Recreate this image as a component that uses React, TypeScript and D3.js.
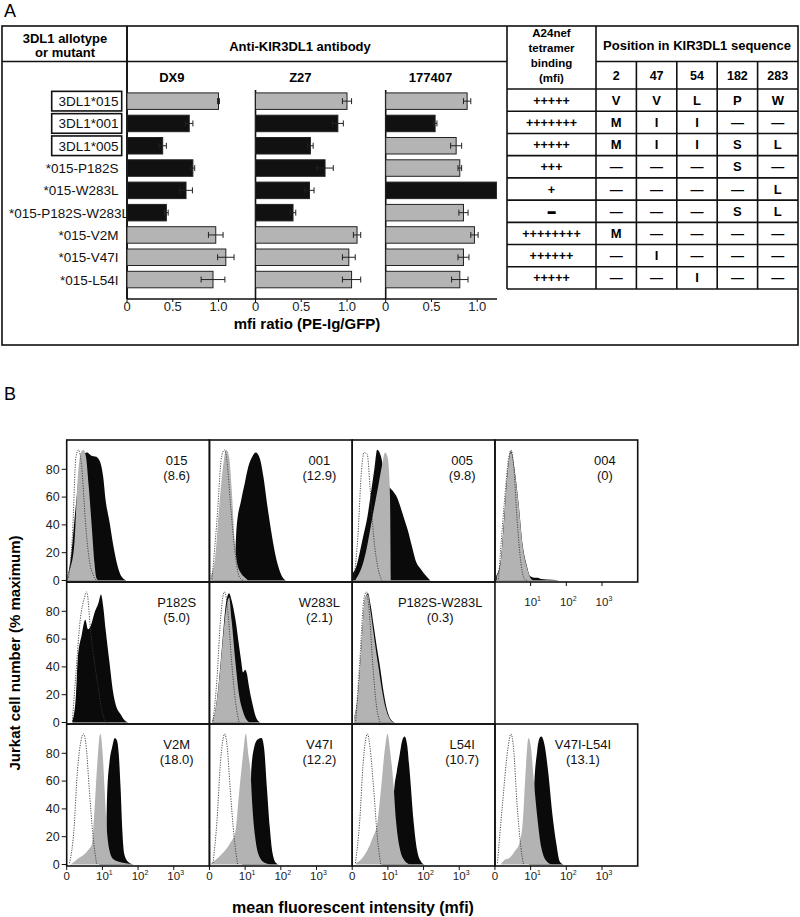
import React from "react";
import * as d3 from "d3";

const FONT = "'Liberation Sans', Arial, Helvetica, sans-serif";

// ---------- panel A data ----------
const alleles = [
  "3DL1*015",
  "3DL1*001",
  "3DL1*005",
  "*015-P182S",
  "*015-W283L",
  "*015-P182S-W283L",
  "*015-V2M",
  "*015-V47I",
  "*015-L54I",
];
const boxedAlleles = ["3DL1*015", "3DL1*001", "3DL1*005"];
const antibodies = ["DX9", "Z27", "177407"];

const dx9Ratio = [1.0, 0.68, 0.39, 0.72, 0.645, 0.43, 0.97, 1.08, 0.94];
const dx9Err = [0.01, 0.04, 0.04, 0.02, 0.07, 0.02, 0.08, 0.09, 0.13];
const dx9Low = [false, true, true, true, true, true, false, false, false];

const z27Ratio = [1.0, 0.9, 0.6, 0.76, 0.59, 0.41, 1.11, 1.02, 1.05];
const z27Err = [0.05, 0.06, 0.03, 0.09, 0.05, 0.03, 0.04, 0.07, 0.1];
const z27Low = [false, true, true, true, true, true, false, false, false];

const r177Ratio = [0.89, 0.54, 0.77, 0.81, 1.21, 0.85, 0.97, 0.85, 0.81];
const r177Err = [0.04, 0.02, 0.06, 0.02, 0, 0.05, 0.04, 0.06, 0.09];
const r177Low = [false, true, false, false, true, false, false, false, false];

const ratioTicks = [0, 0.5, 1.0];

const tetramerBinding = [
  "+++++",
  "+++++++",
  "+++++",
  "+++",
  "+",
  "\u2013",
  "++++++++",
  "++++++",
  "+++++",
];
const positions = ["2", "47", "54", "182", "283"];
const D = "\u2014";
const residues = [
  ["V", "V", "L", "P", "W"],
  ["M", "I", "I", D, D],
  ["M", "I", "I", "S", "L"],
  [D, D, D, "S", D],
  [D, D, D, D, "L"],
  [D, D, D, "S", "L"],
  ["M", D, D, D, D],
  [D, "I", D, D, D],
  [D, D, "I", D, D],
];

// ---------- panel B data: [log10 mfi, % maximum] ----------
type Pt = [number, number];
const h015Dot: Pt[] = [[0.05, 2], [0.16, 32], [0.26, 89], [0.33, 94], [0.42, 82], [0.52, 44], [0.62, 17], [0.78, 2], [0.83, 0]];
const h015Gray: Pt[] = [[0.02, 4], [0.1, 9], [0.21, 25], [0.31, 74], [0.4, 92], [0.47, 94], [0.54, 89], [0.62, 67], [0.71, 36], [0.78, 12], [0.83, 2], [0.89, 0]];
const h015Black: Pt[] = [[0.02, 3], [0.1, 13], [0.26, 55], [0.42, 89], [0.57, 92], [0.68, 90], [0.83, 89], [0.94, 85], [1.02, 75], [1.09, 58], [1.2, 42], [1.3, 26], [1.41, 12], [1.51, 4], [1.67, 0]];

const h001Dot: Pt[] = [[0.07, 1], [0.21, 43], [0.34, 89], [0.42, 94], [0.49, 86], [0.59, 55], [0.7, 24], [0.83, 3], [0.94, 0]];
const h001Gray: Pt[] = [[0.03, 3], [0.16, 17], [0.28, 55], [0.39, 84], [0.47, 94], [0.55, 89], [0.62, 67], [0.7, 31], [0.78, 12], [0.89, 5], [1.0, 2], [1.09, 0]];
const h001Black: Pt[] = [[0.05, 1], [0.3, 5], [0.52, 8], [0.7, 11], [0.76, 38], [0.89, 58], [0.99, 70], [1.09, 82], [1.2, 89], [1.3, 92], [1.41, 88], [1.51, 75], [1.61, 56], [1.72, 37], [1.82, 22], [1.93, 10], [2.03, 3], [2.14, 0]];

const h005Dot: Pt[] = [[0.05, 1], [0.16, 32], [0.26, 79], [0.33, 92], [0.42, 91], [0.5, 67], [0.6, 32], [0.73, 8], [0.83, 0]];
const h005Gray: Pt[] = [[0.1, 1], [0.21, 6], [0.31, 13], [0.42, 25], [0.52, 39], [0.62, 53], [0.73, 68], [0.83, 82], [0.92, 92], [0.99, 89], [1.04, 75], [1.06, 60], [1.08, 0]];
const h005Black: Pt[] = [[0.0, 5], [0.1, 9], [0.21, 20], [0.31, 32], [0.42, 45], [0.52, 62], [0.62, 80], [0.7, 94], [0.81, 89], [0.94, 70], [1.04, 67], [1.15, 64], [1.25, 60], [1.35, 53], [1.46, 44], [1.56, 36], [1.67, 25], [1.77, 15], [1.93, 8], [2.08, 3], [2.19, 0]];

const h004Dot: Pt[] = [[0.1, 1], [0.26, 55], [0.39, 89], [0.45, 94], [0.52, 84], [0.62, 44], [0.73, 12], [0.83, 1], [0.9, 0]];
const h004Gray: Pt[] = [[0.05, 3], [0.16, 13], [0.26, 44], [0.36, 79], [0.45, 92], [0.55, 79], [0.66, 55], [0.78, 24], [0.89, 10], [0.99, 2], [1.09, 0]];
const h004Black: Pt[] = [[0.03, 3], [0.16, 14], [0.26, 46], [0.36, 80], [0.45, 93], [0.55, 80], [0.66, 56], [0.78, 25], [0.89, 11], [0.99, 3], [1.1, 2], [1.2, 2], [1.3, 1], [1.6, 0.5], [1.8, 0]];

const hP182SDot: Pt[] = [[0.16, 1], [0.26, 36], [0.38, 74], [0.5, 90], [0.56, 94], [0.68, 63], [0.78, 43], [0.89, 24], [0.99, 8], [1.09, 1], [1.15, 0]];
const hP182SBlack: Pt[] = [[0.16, 1], [0.26, 20], [0.31, 46], [0.42, 63], [0.52, 74], [0.6, 67], [0.68, 70], [0.78, 79], [0.89, 86], [0.96, 92], [1.02, 84], [1.09, 67], [1.2, 43], [1.3, 22], [1.41, 10], [1.51, 6], [1.61, 2], [1.72, 0]];

const hW283LDot: Pt[] = [[0.1, 1], [0.21, 31], [0.31, 74], [0.42, 94], [0.52, 79], [0.62, 44], [0.73, 15], [0.83, 0]];
const hW283LGray: Pt[] = [[0.07, 1], [0.16, 8], [0.26, 27], [0.36, 55], [0.47, 82], [0.55, 90], [0.62, 74], [0.73, 43], [0.83, 20], [0.94, 8], [1.04, 2], [1.15, 0]];
const hW283LBlack: Pt[] = [[0.07, 1], [0.16, 8], [0.26, 28], [0.36, 57], [0.47, 87], [0.55, 93], [0.62, 88], [0.73, 74], [0.83, 55], [0.89, 44], [0.94, 36], [1.0, 38], [1.05, 35], [1.1, 27], [1.2, 14], [1.3, 4], [1.42, 0]];

const hPWDot: Pt[] = [[0.1, 1], [0.21, 43], [0.33, 89], [0.4, 94], [0.47, 82], [0.57, 44], [0.68, 12], [0.78, 0]];
const hPWGray: Pt[] = [[0.05, 3], [0.16, 20], [0.26, 55], [0.36, 89], [0.44, 92], [0.52, 79], [0.62, 60], [0.73, 41], [0.83, 24], [0.94, 10], [1.04, 3], [1.15, 0]];
const hPWBlack: Pt[] = [[0.05, 3], [0.16, 20], [0.26, 55], [0.36, 89], [0.44, 93], [0.52, 84], [0.6, 70], [0.68, 56], [0.78, 40], [0.88, 22], [0.99, 8], [1.09, 2], [1.2, 0]];

const hV2MDot: Pt[] = [[0.08, 1], [0.2, 24], [0.3, 67], [0.4, 89], [0.47, 94], [0.55, 84], [0.63, 55], [0.74, 20], [0.84, 0]];
const hV2MGray: Pt[] = [[0.1, 0], [0.21, 2], [0.36, 5], [0.52, 8], [0.62, 11], [0.71, 15], [0.78, 40], [0.85, 70], [0.94, 94], [1.01, 79], [1.06, 55], [1.12, 27], [1.2, 10], [1.3, 4], [1.46, 2], [1.61, 1], [1.88, 0]];
const hV2MBlack: Pt[] = [[0.9, 0], [1.1, 8], [1.13, 48], [1.2, 74], [1.27, 84], [1.35, 91], [1.41, 89], [1.46, 79], [1.51, 55], [1.56, 24], [1.61, 8], [1.72, 2], [1.88, 0]];

const hV47IDot: Pt[] = [[0.1, 1], [0.21, 31], [0.31, 74], [0.43, 94], [0.5, 84], [0.58, 55], [0.69, 20], [0.79, 0]];
const hV47IGray: Pt[] = [[0.05, 1], [0.16, 3], [0.36, 8], [0.57, 15], [0.73, 24], [0.83, 51], [0.94, 79], [1.02, 94], [1.09, 79], [1.15, 67], [1.2, 43], [1.28, 20], [1.41, 5], [1.56, 1], [1.72, 0]];
const hV47IBlack: Pt[] = [[0.9, 0], [1.15, 10], [1.17, 67], [1.25, 84], [1.35, 90], [1.46, 91], [1.53, 84], [1.61, 55], [1.69, 27], [1.77, 8], [1.87, 1], [1.93, 0]];

const hL54IDot: Pt[] = [[0.09, 1], [0.21, 31], [0.31, 74], [0.43, 94], [0.5, 84], [0.6, 55], [0.7, 21], [0.8, 0]];
const hL54IGray: Pt[] = [[0.1, 1], [0.26, 4], [0.42, 10], [0.57, 19], [0.71, 31], [0.81, 55], [0.92, 84], [0.99, 94], [1.06, 82], [1.15, 60], [1.23, 31], [1.33, 12], [1.46, 3], [1.61, 0]];
const hL54IBlack: Pt[] = [[0.8, 0], [1.15, 6], [1.17, 50], [1.25, 67], [1.33, 79], [1.4, 89], [1.47, 92], [1.54, 86], [1.61, 67], [1.72, 31], [1.82, 10], [1.93, 2], [2.03, 0]];

const hVLDot: Pt[] = [[0.07, 1], [0.21, 43], [0.36, 83], [0.45, 94], [0.52, 84], [0.62, 43], [0.73, 12], [0.8, 0]];
const hVLGray: Pt[] = [[0.16, 0], [0.26, 3], [0.42, 5], [0.57, 10], [0.68, 15], [0.78, 31], [0.86, 67], [0.94, 91], [1.01, 84], [1.09, 60], [1.2, 31], [1.3, 12], [1.46, 2], [1.61, 0]];
const hVLBlack: Pt[] = [[0.95, 3], [1.08, 20], [1.1, 55], [1.18, 81], [1.25, 91], [1.3, 92], [1.39, 86], [1.49, 67], [1.61, 36], [1.72, 15], [1.82, 2], [1.93, 0]];

const histNames = ["015", "001", "005", "004", "P182S", "W283L", "P182S-W283L", "", "V2M", "V47I", "L54I", "V47I-L54I"];
const histMfi = ["8.6", "12.9", "9.8", "0", "5.0", "2.1", "0.3", "", "18.0", "12.2", "10.7", "13.1"];
const histBlack = [h015Black, h001Black, h005Black, h004Black, hP182SBlack, hW283LBlack, hPWBlack, null, hV2MBlack, hV47IBlack, hL54IBlack, hVLBlack];
const histGray = [h015Gray, h001Gray, h005Gray, h004Gray, null, hW283LGray, hPWGray, null, hV2MGray, hV47IGray, hL54IGray, hVLGray];
const histDot = [h015Dot, h001Dot, h005Dot, h004Dot, hP182SDot, hW283LDot, hPWDot, null, hV2MDot, hV47IDot, hL54IDot, hVLDot];

const pctTicks = [0, 20, 40, 60, 80];
const decadeTicks = [0, 1, 2, 3];

export default function App() {
  // ---------- panel A layout ----------
  const frame = { x: 2, y: 26, w: 796, h: 319 };
  const headerY = 61.5;
  const axisY = 299;
  const tableX = 507;
  const bindX = 596;

  const rowBand = d3
    .scaleBand<string>()
    .domain(alleles)
    .range([90, 290.7])
    .paddingInner(0.26)
    .paddingOuter(0.13);
  const tableBand = d3.scaleBand<string>().domain(alleles).range([89, 289]);
  const posBand = d3.scaleBand<string>().domain(positions).range([bindX, 798]);

  const panelX0 = [127, 255.5, 385.7];
  const ratioScales = panelX0.map((x0) => d3.scaleLinear().domain([0, 1]).range([x0, x0 + 91.5]));
  const series = [
    { ratio: dx9Ratio, err: dx9Err, low: dx9Low },
    { ratio: z27Ratio, err: z27Err, low: z27Low },
    { ratio: r177Ratio, err: r177Err, low: r177Low },
  ];

  // ---------- panel B layout ----------
  const gLeft = 66.7;
  const gTop = 440;
  const cellW = 142.75;
  const cellH = 142;

  const area = (xs: d3.ScaleLinear<number, number>, ys: d3.ScaleLinear<number, number>) =>
    d3
      .area<Pt>()
      .x((d) => xs(d[0]))
      .y0(ys(0))
      .y1((d) => ys(d[1]))
      .curve(d3.curveMonotoneX);
  const lineGen = (xs: d3.ScaleLinear<number, number>, ys: d3.ScaleLinear<number, number>) =>
    d3
      .line<Pt>()
      .x((d) => xs(d[0]))
      .y((d) => ys(d[1]))
      .curve(d3.curveMonotoneX);

  const tableRowsY = alleles.map((a) => tableBand(a) as number).concat([289]);

  return (
    <svg
      width={800}
      height={917}
      style={{ position: "absolute", left: 0, top: 0, background: "#fff" }}
      fontFamily={FONT}
    >
      {/* ================= PANEL A ================= */}
      <text x={4} y={17} fontSize={18}>A</text>
      <rect x={frame.x} y={frame.y} width={frame.w} height={frame.h} fill="none" stroke="#111" strokeWidth={1.6} />
      <line x1={frame.x} x2={tableX} y1={headerY} y2={headerY} stroke="#111" strokeWidth={1.6} />
      <line x1={127} x2={127} y1={frame.y} y2={axisY} stroke="#111" strokeWidth={1.6} />

      <text x={65} y={43} fontSize={13} fontWeight="bold" textAnchor="middle">3DL1 allotype</text>
      <text x={65} y={57} fontSize={13} fontWeight="bold" textAnchor="middle">or mutant</text>
      <text x={300} y={51} fontSize={13} fontWeight="bold" textAnchor="middle">Anti-KIR3DL1 antibody</text>

      {antibodies.map((ab, i) => (
        <text key={ab} x={ratioScales[i](0.49)} y={82} fontSize={13} fontWeight="bold" textAnchor="middle">
          {ab}
        </text>
      ))}

      {/* allele labels */}
      {alleles.map((a) => {
        const cy = (rowBand(a) as number) + rowBand.bandwidth() / 2;
        const long = a.length > 12;
        return (
          <g key={a}>
            {boxedAlleles.includes(a) && (
              <rect x={51.7} y={cy - 9.8} width={70} height={19.6} fill="#fff" stroke="#111" strokeWidth={1.6} />
            )}
            <text
              x={long ? 9 : 118.5}
              y={cy + 5}
              fontSize={13.5}
              textAnchor={long ? "start" : "end"}
              fill="#111"
            >
              {a}
            </text>
          </g>
        );
      })}

      {/* bars */}
      {series.map((s, i) => {
        const xs = ratioScales[i];
        return (
          <g key={antibodies[i]}>
            <line x1={xs(0)} x2={xs(0)} y1={i === 0 ? frame.y : 90} y2={axisY} stroke="#111" strokeWidth={1.6} />
            {alleles.map((a, j) => {
              const y = rowBand(a) as number;
              const h = rowBand.bandwidth();
              const v = s.ratio[j];
              const e = s.err[j];
              const cy = y + h / 2;
              return (
                <g key={a}>
                  <rect
                    x={xs(0)}
                    y={y}
                    width={xs(v) - xs(0)}
                    height={h}
                    fill={s.low[j] ? "#111" : "#b4b4b4"}
                    stroke="#222"
                    strokeWidth={1}
                  />
                  {e > 0 && (
                    <g stroke="#222" strokeWidth={1}>
                      <line x1={xs(v - e)} x2={xs(v + e)} y1={cy} y2={cy} />
                      <line x1={xs(v - e)} x2={xs(v - e)} y1={cy - 3} y2={cy + 3} />
                      <line x1={xs(v + e)} x2={xs(v + e)} y1={cy - 3} y2={cy + 3} />
                    </g>
                  )}
                </g>
              );
            })}
            {ratioTicks.map((t) => (
              <g key={t}>
                <line x1={xs(t)} x2={xs(t)} y1={axisY} y2={axisY + 3} stroke="#111" strokeWidth={1} />
                <text x={xs(t)} y={axisY + 12} fontSize={13} textAnchor="middle" fill="#222">
                  {t === 0 ? "0" : t.toFixed(1)}
                </text>
              </g>
            ))}
          </g>
        );
      })}
      <line x1={127} x2={497} y1={axisY} y2={axisY} stroke="#111" strokeWidth={1.6} />
      <text x={307} y={329} fontSize={15} fontWeight="bold" textAnchor="middle">mfi ratio (PE-Ig/GFP)</text>

      {/* table */}
      <g stroke="#111" strokeWidth={1.6}>
        <line x1={tableX} x2={tableX} y1={frame.y} y2={289} />
        <line x1={bindX} x2={bindX} y1={frame.y} y2={289} />
        <line x1={bindX} x2={798} y1={headerY} y2={headerY} />
        {positions.slice(1).map((p) => (
          <line key={p} x1={posBand(p) as number} x2={posBand(p) as number} y1={headerY} y2={289} />
        ))}
        {tableRowsY.map((y, k) => (
          <line key={k} x1={tableX} x2={798} y1={y} y2={y} />
        ))}
      </g>
      {["A24nef", "tetramer", "binding", "(mfi)"].map((t, k) => (
        <text key={t} x={551.5} y={37 + k * 15} fontSize={11.5} fontWeight="bold" textAnchor="middle">
          {t}
        </text>
      ))}
      <text x={697} y={50} fontSize={13} fontWeight="bold" textAnchor="middle">Position in KIR3DL1 sequence</text>
      {positions.map((p) => (
        <text
          key={p}
          x={(posBand(p) as number) + posBand.bandwidth() / 2}
          y={79.5}
          fontSize={12.5}
          fontWeight="bold"
          textAnchor="middle"
        >
          {p}
        </text>
      ))}
      {alleles.map((a, j) => {
        const cy = (tableBand(a) as number) + tableBand.bandwidth() / 2;
        const isMinus = tetramerBinding[j] === "\u2013";
        return (
          <g key={a}>
            <text
              x={551.5}
              y={cy + 4.5}
              fontSize={isMinus ? 13 : 12.5}
              fontWeight="bold"
              textAnchor="middle"
              stroke={isMinus ? "#000" : "none"}
              strokeWidth={isMinus ? 1.6 : 0}
            >
              {tetramerBinding[j]}
            </text>
            {positions.map((p, k) => (
              <text
                key={p}
                x={(posBand(p) as number) + posBand.bandwidth() / 2}
                y={cy + 4.5}
                fontSize={13}
                fontWeight="bold"
                textAnchor="middle"
              >
                {residues[j][k]}
              </text>
            ))}
          </g>
        );
      })}

      {/* ================= PANEL B ================= */}
      <text x={4} y={400} fontSize={18}>B</text>

      {histNames.map((name, idx) => {
        const col = idx % 4;
        const row = Math.floor(idx / 4);
        const x0 = gLeft + col * cellW;
        const y0 = gTop + row * cellH;
        const xs = d3.scaleLinear().domain([0, 4]).range([x0, x0 + cellW]);
        const ys = d3.scaleLinear().domain([0, 100]).range([y0 + cellH - 1.5, y0 + 1.5]);
        if (!name) return null;
        const black = histBlack[idx];
        const gray = histGray[idx];
        const dot = histDot[idx];
        const long = name.length > 6;
        const lx = long ? x0 + 88 : x0 + 110;
        const clipId = `clip${idx}`;
        return (
          <g key={idx}>
            <clipPath id={clipId}>
              <rect x={x0} y={y0} width={cellW} height={cellH} />
            </clipPath>
            <g clipPath={`url(#${clipId})`}>
              {black && <path d={area(xs, ys)(black) as string} fill="#0a0a0a" />}
              {gray && <path d={area(xs, ys)(gray) as string} fill="#b3b3b3" />}
              {dot && (
                <path
                  d={lineGen(xs, ys)(dot) as string}
                  fill="none"
                  stroke="#3a3a3a"
                  strokeWidth={0.9}
                  strokeDasharray="1.2,1.3"
                />
              )}
            </g>
            <rect x={x0} y={y0} width={cellW} height={cellH} fill="none" stroke="#111" strokeWidth={1.6} />
            <text x={lx} y={y0 + 25} fontSize={13} textAnchor="middle" fill="#111">{name}</text>
            <text x={lx} y={y0 + 40} fontSize={13} textAnchor="middle" fill="#111">({histMfi[idx]})</text>

            {/* y axis on first column */}
            {col === 0 &&
              pctTicks.map((t) => (
                <g key={t}>
                  <line x1={x0 - 5} x2={x0} y1={ys(t)} y2={ys(t)} stroke="#111" strokeWidth={1} />
                  <text x={x0 - 7} y={ys(t) + 4.3} fontSize={12.5} textAnchor="end" fill="#222">
                    {t}
                  </text>
                </g>
              ))}

            {/* x axis on bottom row, and under 004 whose lower cell is empty */}
            {(row === 2 || idx === 3) &&
              decadeTicks
                .filter((t) => row === 2 || t > 0)
                .map((t) => {
                  const base = y0 + cellH;
                  const ly = row === 2 ? base + 14 : base + 24;
                  return (
                    <g key={t}>
                      <line x1={xs(t)} x2={xs(t)} y1={base} y2={base + 4} stroke="#111" strokeWidth={1} />
                      {t === 0 ? (
                        <text x={xs(t)} y={ly} fontSize={11.5} textAnchor="middle" fill="#222">0</text>
                      ) : (
                        <text x={xs(t) - 6.4} y={ly} fontSize={11.5} fill="#222">
                          10
                          <tspan dy={-5} fontSize={7}>{t}</tspan>
                        </text>
                      )}
                    </g>
                  );
                })}
          </g>
        );
      })}

      <text
        transform={`translate(20, ${gTop + (3 * cellH) / 2}) rotate(-90)`}
        fontSize={15}
        fontWeight="bold"
        textAnchor="middle"
      >
        Jurkat cell number (% maximum)
      </text>
      <text x={353} y={913} fontSize={16} fontWeight="bold" textAnchor="middle">
        mean fluorescent intensity (mfi)
      </text>
    </svg>
  );
}
